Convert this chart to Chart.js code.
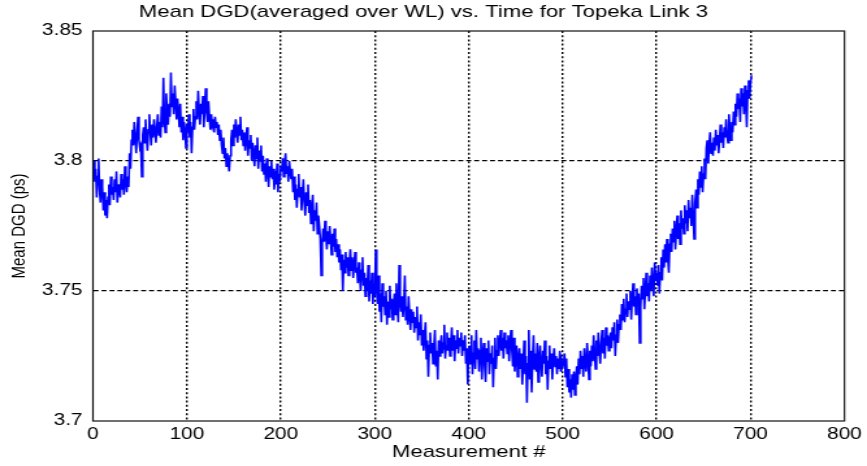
<!DOCTYPE html>
<html>
<head>
<meta charset="utf-8">
<title>Mean DGD vs. Time - Topeka Link 3</title>
<script src="https://cdn.jsdelivr.net/npm/chart.js@4.4.1/dist/chart.umd.min.js"></script>
<style>
  html, body { margin: 0; padding: 0; background: #fff; }
  canvas { display: block; }
</style>
</head>
<body>
<!-- figure is laid out on a narrower canvas and widened by CSS, like a stretched MATLAB export -->
<canvas id="plot" width="667" height="466" style="width:867px;height:466px"></canvas>
<script>
// ── Data ───────────────────────────────────────────────────
// mean DGD (ps) per measurement, measurement # = index + 1
const dgd = [
  3.800, 3.792, 3.797, 3.786, 3.794, 3.801, 3.789, 3.784, 3.793, 3.790,
  3.781, 3.788, 3.779, 3.785, 3.778, 3.786, 3.791, 3.783, 3.794, 3.787,
  3.790, 3.785, 3.793, 3.788, 3.796, 3.784, 3.791, 3.789, 3.786, 3.795,
  3.789, 3.793, 3.787, 3.798, 3.792, 3.788, 3.794, 3.790, 3.803, 3.797,
  3.808, 3.812, 3.806, 3.815, 3.809, 3.803, 3.811, 3.817, 3.808, 3.805,
  3.806, 3.794, 3.810, 3.813, 3.807, 3.816, 3.809, 3.804, 3.812, 3.818,
  3.811, 3.806, 3.814, 3.809, 3.816, 3.812, 3.807, 3.813, 3.818, 3.810,
  3.815, 3.809, 3.821, 3.813, 3.832, 3.816, 3.811, 3.826, 3.819, 3.814,
  3.822, 3.817, 3.834, 3.821, 3.826, 3.818, 3.829, 3.823, 3.816, 3.824,
  3.819, 3.813, 3.822, 3.811, 3.817, 3.808, 3.815, 3.812, 3.805, 3.814,
  3.811, 3.818, 3.809, 3.815, 3.803, 3.813, 3.820, 3.812, 3.817, 3.823,
  3.816, 3.827, 3.819, 3.814, 3.822, 3.818, 3.825, 3.813, 3.820, 3.828,
  3.819, 3.815, 3.823, 3.817, 3.812, 3.818, 3.814, 3.816, 3.811, 3.817,
  3.813, 3.815, 3.810, 3.814, 3.808, 3.812, 3.806, 3.803, 3.809, 3.801,
  3.805, 3.798, 3.803, 3.800, 3.796, 3.802, 3.808, 3.812, 3.806, 3.814,
  3.809, 3.816, 3.811, 3.807, 3.814, 3.810, 3.817, 3.808, 3.812, 3.806,
  3.811, 3.804, 3.809, 3.813, 3.802, 3.808, 3.805, 3.810, 3.800, 3.807,
  3.803, 3.798, 3.806, 3.801, 3.809, 3.797, 3.804, 3.800, 3.806, 3.796,
  3.802, 3.795, 3.799, 3.792, 3.801, 3.797, 3.790, 3.798, 3.794, 3.800,
  3.793, 3.797, 3.789, 3.796, 3.791, 3.799, 3.788, 3.795, 3.792, 3.798,
  3.796, 3.801, 3.794, 3.799, 3.803, 3.795, 3.798, 3.792, 3.800, 3.796,
  3.793, 3.797, 3.788, 3.794, 3.785, 3.791, 3.782, 3.789, 3.795, 3.786,
  3.790, 3.781, 3.787, 3.793, 3.784, 3.779, 3.788, 3.783, 3.791, 3.780,
  3.785, 3.776, 3.782, 3.787, 3.773, 3.781, 3.777, 3.784, 3.772, 3.779,
  3.775, 3.770, 3.756, 3.768, 3.774, 3.769, 3.777, 3.771, 3.766, 3.773,
  3.768, 3.775, 3.770, 3.764, 3.772, 3.767, 3.774, 3.765, 3.770, 3.763,
  3.768, 3.761, 3.766, 3.758, 3.764, 3.750, 3.762, 3.757, 3.765, 3.759,
  3.763, 3.756, 3.761, 3.766, 3.758, 3.763, 3.755, 3.760, 3.765, 3.757,
  3.759, 3.753, 3.761, 3.756, 3.750, 3.758, 3.763, 3.752, 3.757, 3.748,
  3.755, 3.750, 3.760, 3.746, 3.754, 3.749, 3.757, 3.745, 3.752, 3.748,
  3.766, 3.751, 3.745, 3.756, 3.742, 3.749, 3.738, 3.753, 3.744, 3.748,
  3.741, 3.750, 3.737, 3.746, 3.740, 3.752, 3.743, 3.747, 3.739, 3.745,
  3.749, 3.741, 3.753, 3.744, 3.738, 3.760, 3.746, 3.742, 3.748, 3.740,
  3.745, 3.756, 3.739, 3.744, 3.737, 3.748, 3.741, 3.735, 3.743, 3.738,
  3.742, 3.734, 3.740, 3.736, 3.744, 3.731, 3.738, 3.733, 3.741, 3.729,
  3.735, 3.727, 3.733, 3.738, 3.724, 3.731, 3.717, 3.729, 3.734, 3.726,
  3.730, 3.722, 3.728, 3.735, 3.721, 3.727, 3.716, 3.731, 3.725, 3.729,
  3.733, 3.726, 3.730, 3.737, 3.724, 3.729, 3.734, 3.727, 3.732, 3.725,
  3.730, 3.736, 3.727, 3.733, 3.723, 3.731, 3.728, 3.735, 3.726, 3.732,
  3.729, 3.734, 3.725, 3.731, 3.727, 3.733, 3.722, 3.728, 3.714, 3.727,
  3.729, 3.722, 3.733, 3.718, 3.726, 3.731, 3.720, 3.735, 3.724, 3.728,
  3.719, 3.727, 3.732, 3.716, 3.725, 3.730, 3.721, 3.715, 3.728, 3.723,
  3.731, 3.718, 3.726, 3.722, 3.729, 3.713, 3.724, 3.732, 3.720, 3.727,
  3.733, 3.725, 3.730, 3.735, 3.727, 3.732, 3.724, 3.734, 3.728, 3.731,
  3.726, 3.733, 3.723, 3.730, 3.735, 3.727, 3.721, 3.732, 3.719, 3.725,
  3.729, 3.717, 3.724, 3.728, 3.720, 3.726, 3.714, 3.722, 3.731, 3.718,
  3.725, 3.707, 3.722, 3.735, 3.716, 3.727, 3.711, 3.724, 3.733, 3.720,
  3.726, 3.719, 3.730, 3.715, 3.724, 3.729, 3.721, 3.717, 3.727, 3.722,
  3.731, 3.718, 3.725, 3.712, 3.723, 3.729, 3.720, 3.726, 3.716, 3.724,
  3.728, 3.721, 3.725, 3.718, 3.724, 3.720, 3.727, 3.719, 3.723, 3.721,
  3.722, 3.726, 3.717, 3.724, 3.713, 3.720, 3.711, 3.716, 3.709, 3.718,
  3.712, 3.719, 3.710, 3.716, 3.721, 3.714, 3.724, 3.718, 3.727, 3.720,
  3.725, 3.717, 3.728, 3.722, 3.719, 3.730, 3.724, 3.716, 3.727, 3.721,
  3.729, 3.723, 3.733, 3.726, 3.720, 3.731, 3.725, 3.734, 3.727, 3.722,
  3.730, 3.735, 3.726, 3.732, 3.724, 3.736, 3.729, 3.733, 3.727, 3.731,
  3.734, 3.728, 3.736, 3.731, 3.738, 3.725, 3.733, 3.739, 3.730, 3.737,
  3.741, 3.735, 3.745, 3.739, 3.747, 3.738, 3.743, 3.749, 3.740, 3.746,
  3.743, 3.750, 3.739, 3.747, 3.753, 3.744, 3.748, 3.741, 3.751, 3.745,
  3.749, 3.730, 3.744, 3.752, 3.747, 3.755, 3.743, 3.750, 3.757, 3.748,
  3.753, 3.746, 3.756, 3.750, 3.759, 3.752, 3.748, 3.761, 3.754, 3.757,
  3.752, 3.760, 3.749, 3.757, 3.763, 3.754, 3.766, 3.759, 3.768, 3.761,
  3.770, 3.763, 3.757, 3.768, 3.772, 3.765, 3.774, 3.769, 3.777, 3.766,
  3.773, 3.779, 3.770, 3.776, 3.768, 3.781, 3.774, 3.778, 3.772, 3.783,
  3.776, 3.781, 3.773, 3.785, 3.778, 3.782, 3.775, 3.787, 3.779, 3.770,
  3.784, 3.789, 3.782, 3.793, 3.787, 3.796, 3.790, 3.798, 3.788, 3.795,
  3.801, 3.793, 3.805, 3.808, 3.799, 3.806, 3.811, 3.803, 3.807, 3.802,
  3.809, 3.804, 3.812, 3.806, 3.810, 3.803, 3.808, 3.814, 3.807, 3.811,
  3.805, 3.813, 3.809, 3.816, 3.810, 3.807, 3.818, 3.812, 3.808, 3.815,
  3.811, 3.819, 3.814, 3.822, 3.817, 3.826, 3.820, 3.824, 3.815, 3.828,
  3.821, 3.826, 3.818, 3.829, 3.823, 3.813, 3.827, 3.831, 3.824, 3.830,
  3.833,
];

const xTicks = [0, 100, 200, 300, 400, 500, 600, 700, 800];
const yTicks = [3.7, 3.75, 3.8, 3.85];
const yTickLabels = ['3.7', '3.75', '3.8', '3.85'];

// ── Style ──────────────────────────────────────────────────
Chart.defaults.font.family = "'Liberation Sans', Arial, Helvetica, sans-serif";
Chart.defaults.color = '#000';

const INK = '#000';
const CLEAR = 'rgba(0,0,0,0)';

// grid only on inner ticks, the outer ones sit under the box
const innerGrid = n => ctx => (ctx.index === 0 || ctx.index === n - 1) ? CLEAR : INK;

// closed axes box drawn over the grid and the trace
const axesBox = {
  id: 'axesBox',
  afterDatasetsDraw(chart) {
    const { ctx, chartArea: a } = chart;
    ctx.save();
    ctx.strokeStyle = '#111';
    ctx.lineWidth = 1.2;
    ctx.strokeRect(a.left, a.top, a.right - a.left, a.bottom - a.top);
    ctx.restore();
  },
};

new Chart(document.getElementById('plot'), {
  type: 'line',
  data: {
    datasets: [{
      data: dgd.map((v, i) => ({ x: i + 1, y: v })),
      borderColor: '#0000ff',
      borderWidth: 1.6,
      pointRadius: 0,
      tension: 0,
      fill: false,
    }],
  },
  options: {
    responsive: false,
    animation: false,
    layout: { padding: { left: 0, right: 15.5, top: 0, bottom: 0 } },
    plugins: {
      legend: { display: false },
      tooltip: { enabled: false },
      title: {
        display: true,
        text: 'Mean DGD(averaged over WL) vs. Time for Topeka Link 3',
        color: INK,
        font: { size: 17, weight: 'normal' },
        padding: { top: 2, bottom: 8.6 },
      },
    },
    scales: {
      x: {
        type: 'linear',
        min: 0,
        max: 800,
        afterBuildTicks: s => { s.ticks = xTicks.map(v => ({ value: v })); },
        afterFit: s => { s.height = 45; },
        ticks: {
          color: INK,
          padding: 4,
          font: { size: 16 },
          maxRotation: 0,
          autoSkip: false,
          callback: (v, i) => String(xTicks[i]),
        },
        grid: { drawTicks: false, lineWidth: 1.4, color: innerGrid(xTicks.length) },
        border: { display: false, dash: [2, 2.2] },
        title: {
          display: true,
          text: 'Measurement #',
          color: INK,
          font: { size: 17 },
          padding: { top: 0, bottom: 3 },
        },
      },
      y: {
        type: 'linear',
        min: 3.7,
        max: 3.85,
        afterBuildTicks: s => { s.ticks = yTicks.map(v => ({ value: v })); },
        afterFit: s => { s.width = 71.5; },
        ticks: {
          color: INK,
          padding: 8,
          font: { size: 16 },
          callback: (v, i) => yTickLabels[i],
        },
        grid: { drawTicks: false, lineWidth: 1.3, color: innerGrid(yTicks.length) },
        border: { display: false, dash: [3.8, 2.3] },
        title: {
          display: true,
          text: 'Mean DGD (ps)',
          color: INK,
          font: { size: 15 },
          padding: { top: 6, bottom: 0 },
        },
      },
    },
  },
  plugins: [axesBox],
});
</script>
</body>
</html>
